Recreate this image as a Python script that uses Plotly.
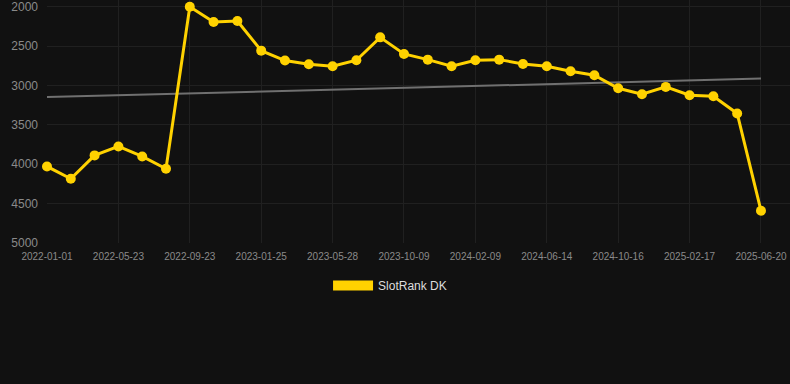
import numpy as np
import plotly.graph_objects as go

dates = [
    "2022-01-01", "2022-02-17", "2022-04-05", "2022-05-23", "2022-07-03", "2022-08-13",
    "2022-09-23", "2022-11-03", "2022-12-14", "2023-01-25", "2023-03-05", "2023-04-16",
    "2023-05-28", "2023-07-11", "2023-08-25", "2023-10-09", "2023-11-20", "2023-12-30",
    "2024-02-09", "2024-03-20", "2024-05-02", "2024-06-14", "2024-07-25", "2024-09-04",
    "2024-10-16", "2024-11-26", "2025-01-07", "2025-02-17", "2025-03-30", "2025-05-10",
    "2025-06-20",
]
ranks = [
    4028, 4184, 3888, 3774, 3901, 4057,
    2000, 2194, 2182, 2558, 2684, 2731,
    2756, 2680, 2389, 2600, 2672, 2756,
    2680, 2672, 2727, 2756, 2820, 2870,
    3035, 3111, 3018, 3124, 3137, 3356,
    4590,
]
tick_labels = dates[::3]
y_ticks = [2000, 2500, 3000, 3500, 4000, 4500, 5000]

idx = np.arange(len(ranks))
slope, intercept = np.polyfit(idx, ranks, 1)
trend = slope * idx + intercept

gold = "#FFD200"
fig = go.Figure()
fig.add_trace(go.Scatter(
    x=dates, y=list(trend), mode="lines",
    line=dict(color="#707070", width=2), showlegend=False, hoverinfo="skip",
))
fig.add_trace(go.Scatter(
    x=dates, y=ranks, mode="lines+markers",
    line=dict(color=gold, width=3), marker=dict(color=gold, size=10),
    showlegend=False, cliponaxis=False,
))
fig.add_trace(go.Scatter(
    x=[None], y=[None], mode="lines", name="SlotRank DK",
    line=dict(color=gold, width=12),
))

fig.update_layout(
    width=790, height=384,
    paper_bgcolor="#111111", plot_bgcolor="#111111",
    margin=dict(l=47, r=0, t=0, b=141, autoexpand=False),
    font=dict(family="Liberation Sans, Arial, sans-serif", color="#8a8a8a"),
    xaxis=dict(
        type="category", range=[0, 31.22],
        tickvals=tick_labels, ticktext=tick_labels, tickangle=0,
        showgrid=True, gridcolor="#202020", gridwidth=1,
        zeroline=False, showline=False, ticks="",
        tickfont=dict(size=10, color="#8a8a8a"),
        ticklabelstandoff=6, ticklabeloverflow="allow",
    ),
    yaxis=dict(
        range=[5000, 1915], tickvals=y_ticks,
        showgrid=True, gridcolor="#202020", gridwidth=1,
        zeroline=False, showline=False, ticks="",
        tickfont=dict(size=12, color="#8a8a8a"),
        ticklabelstandoff=8, ticklabeloverflow="allow",
    ),
    legend=dict(
        orientation="h", x=0.4617, xanchor="center",
        y=-0.115, yanchor="top",
        font=dict(size=12, color="#dddddd"), itemwidth=40,
    ),
)
fig.write_html("out.html", config={"displayModeBar": False})
with open("out.html", encoding="utf-8") as f:
    html = f.read()
html = html.replace("<body>", '<body style="margin:0;background:#111111;">', 1)
with open("out.html", "w", encoding="utf-8") as f:
    f.write(html)
